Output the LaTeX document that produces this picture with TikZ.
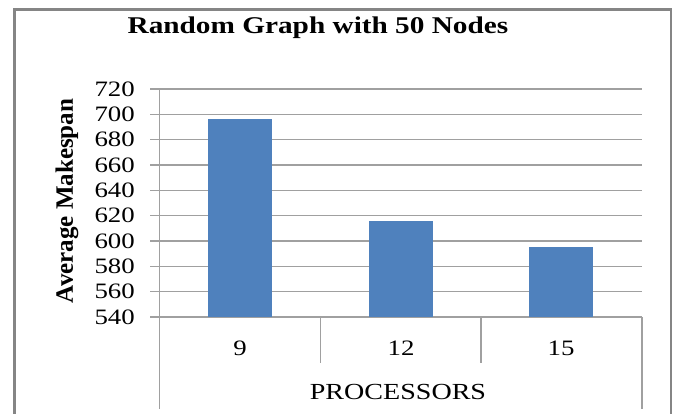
\documentclass[tikz,border=0pt]{standalone}
\usepackage{fontspec}
\setmainfont{Liberation Serif}[FakeStretch=1.22]
\newfontfamily\ylabfont{Liberation Serif}
\definecolor{barblue}{HTML}{4F81BD}
\definecolor{framegray}{HTML}{858585}
\definecolor{gridgray}{HTML}{A0A0A0}
\begin{document}
\begin{tikzpicture}[x=1pt,y=-1pt,
        grid/.style={gridgray,line width=1.2pt},
        ticklab/.style={anchor=east,inner sep=0pt,font=\fontsize{22}{22}\selectfont},
        catlab/.style={inner sep=0pt,font=\fontsize{22}{22}\selectfont}]
        \useasboundingbox (0,0) rectangle (681,414);
        % Frame
        \draw[framegray,line width=2.5pt] (14.5,430) -- (14.5,9.5) -- (671,9.5) -- (671,430);
        \node[font=\bfseries\fontsize{24}{24}\selectfont] (title) at (318,28) {Random Graph with 50 Nodes};
        % Grid lines and ticks
        \foreach \v in {540,560,...,720} {
            \draw[grid] (150,{317-(\v-540)*1.2667}) -- (642,{317-(\v-540)*1.2667});
            \node[ticklab] (t\v) at (135,{317-(\v-540)*1.2667}) {\v};
        }
        % Axes and category dividers
        \draw[grid] (159.5,89) -- (159.5,409);
        \draw[grid] (642,317) -- (642,409);
        \foreach \x in {320.5,481} {
            \draw[grid] (\x,317) -- (\x,363);
        }
        % Bars
        \foreach \xc/\v in {240/696,401/615.5,561/595.5} {
            \fill[barblue] (\xc-32,317) rectangle (\xc+32,{317-(\v-540)*1.2667});
        }
        % Category labels
        \node[catlab] (c9) at (240,348.5) {9};
        \node[catlab] (c12) at (401,348.5) {12};
        \node[catlab] (c15) at (561,348.5) {15};
        \node[inner sep=0pt,font=\fontsize{23}{23}\selectfont] (xlab) at (398,392) {PROCESSORS};
        \node[rotate=90,inner sep=0pt,font=\ylabfont\bfseries\fontsize{25}{25}\selectfont] (ylab) at (67,201) {Average Makespan};
    \end{tikzpicture}
\end{document}
